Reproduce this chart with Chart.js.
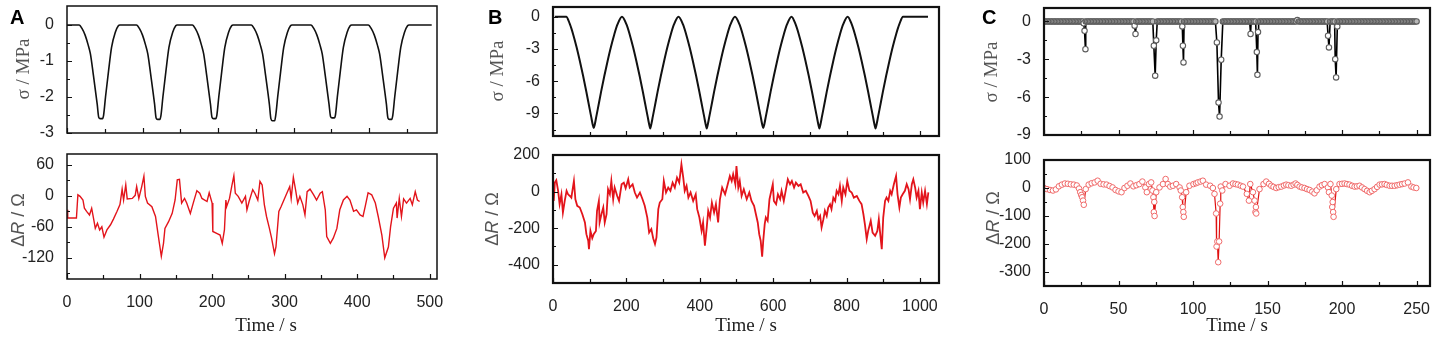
<!DOCTYPE html>
<html>
<head>
<meta charset="utf-8">
<script src="https://cdn.jsdelivr.net/npm/chart.js@4.4.0/dist/chart.umd.min.js"></script>
<style>
body { margin: 0; background: #fff; width: 1439px; height: 340px; position: relative; overflow: hidden; }
canvas { position: absolute; }
.lt { position: absolute; font: bold 20px "Liberation Sans", Arial, sans-serif; line-height: 20px; color: #000; }
.xt { position: absolute; font: 19px "Liberation Serif", "Times New Roman", serif; color: #222; transform: translate(-50%, -50%); white-space: nowrap; }
.ys { position: absolute; font: 19px "Liberation Serif", "Times New Roman", serif; color: #555; transform: translate(-50%, -50%) rotate(-90deg); white-space: nowrap; }
.yr { position: absolute; font: 18px "Liberation Sans", Arial, sans-serif; color: #555; transform: translate(-50%, -50%) rotate(-90deg); white-space: nowrap; }
</style>
</head>
<body>
<canvas id="aTop"></canvas>
<canvas id="aBot"></canvas>
<canvas id="bTop"></canvas>
<canvas id="bBot"></canvas>
<canvas id="cTop"></canvas>
<canvas id="cBot"></canvas>

<div class="lt" style="left:10px;top:7px">A</div>
<div class="lt" style="left:488px;top:7px">B</div>
<div class="lt" style="left:982px;top:7px">C</div>

<div class="ys" style="left:23px;top:69px">σ / MPa</div>
<div class="yr" style="left:18px;top:220px">Δ<i>R</i> / Ω</div>
<div class="ys" style="left:497px;top:71px">σ / MPa</div>
<div class="yr" style="left:492px;top:219px">Δ<i>R</i> / Ω</div>
<div class="ys" style="left:991px;top:72px">σ / MPa</div>
<div class="yr" style="left:993px;top:218px">Δ<i>R</i> / Ω</div>

<div class="xt" style="left:266px;top:325px">Time / s</div>
<div class="xt" style="left:746px;top:325px">Time / s</div>
<div class="xt" style="left:1237px;top:325px">Time / s</div>

<script>
// ---- A: stress (top) and resistance change (bottom) ----
const aTopT = [0, 16,
  20, 24, 28, 31, 35, 40, 42, 44, 47, 48.5, 51, 55, 59, 64, 68, 70,
  92, 96, 100, 104, 107, 111, 116, 118, 120, 123, 124.5, 127, 131, 135, 140, 144, 146,
  166, 170, 174, 178, 181, 185, 190, 192, 194, 197, 198.5, 201, 205, 209, 214, 218, 220,
  244, 248, 252, 256, 259, 263, 268, 270, 272, 275, 276.5, 279, 283, 287, 292, 296, 298,
  323, 327, 331, 335, 338, 342, 347, 349, 351, 354, 355.5, 358, 362, 366, 371, 375, 377,
  399, 403, 407, 411, 414, 418, 423, 425, 427, 430, 431.5, 434, 438, 442, 447, 451, 453,
  468, 483];
const aTopS = [0, 0,
  -0.1, -0.28, -0.55, -0.8, -1.4, -2.2, -2.56, -2.6, -2.6, -2.5, -2.0, -1.28, -0.62, -0.2, -0.02, 0,
  0, -0.1, -0.28, -0.55, -0.8, -1.4, -2.2, -2.58, -2.62, -2.62, -2.5, -2.0, -1.28, -0.62, -0.2, -0.02, 0,
  0, -0.1, -0.28, -0.55, -0.8, -1.4, -2.2, -2.56, -2.6, -2.6, -2.5, -2.0, -1.28, -0.62, -0.2, -0.02, 0,
  0, -0.1, -0.28, -0.55, -0.8, -1.4, -2.2, -2.6, -2.66, -2.66, -2.5, -2.0, -1.28, -0.62, -0.2, -0.02, 0,
  0, -0.1, -0.28, -0.55, -0.8, -1.4, -2.2, -2.54, -2.58, -2.58, -2.5, -2.0, -1.28, -0.62, -0.2, -0.02, 0,
  0, -0.1, -0.28, -0.55, -0.8, -1.4, -2.2, -2.58, -2.62, -2.62, -2.5, -2.0, -1.28, -0.62, -0.2, -0.02, 0,
  0, 0];

const aBotT = [0, 1, 8, 13, 15, 18, 22, 24, 27, 31,
  34, 37, 39, 42, 45, 48, 51, 55, 60, 64,
  69, 73, 76, 78, 81, 83, 90, 94, 96, 99,
  103, 106, 108, 111, 117, 122, 126, 130, 133, 135,
  140, 145, 149, 152, 155, 158, 162, 165, 170, 174,
  179, 183, 186, 193, 196, 200, 201, 207, 211, 214,
  217, 219, 220, 224, 227, 230, 232, 236, 241, 246,
  248, 251, 256, 259, 263, 266, 269, 272, 275, 279,
  282, 286, 288, 292, 295, 299, 303, 307, 309, 312,
  315, 318, 321, 325, 328, 331, 335, 340, 344, 349,
  352, 356, 358, 363, 367, 372, 376, 381, 386, 390,
  395, 399, 404, 408, 411, 415, 420, 425, 429, 434,
  438, 443, 446, 450, 454, 455, 458, 461, 464, 468,
  473, 476, 480, 483, 486];
const aBotR = [-27, -43, -43, -43, 2, -1, -8, -24, -30, -37,
  -24, -47, -63, -53, -66, -60, -80, -66, -56, -45,
  -30, -17, 13, -8, 21, -6, -5, 1, 18, -5,
  18, 38, -1, -14, -21, -40, -79, -117, -92, -63,
  -50, -34, -8, 31, 32, -14, -5, -14, -34, -14,
  10, 5, -5, -11, 6, -14, -69, -73, -76, -92,
  -66, -8, -21, -5, 18, 39, 5, -1, -14, -1,
  -27, -11, 12, 5, -8, 28, 21, -17, -40, -63,
  -82, -112, -99, -30, -21, -8, 5, 18, -5, 36,
  12, -14, -1, -17, -37, 8, 13, 2, -8, 5,
  8, -27, -79, -92, -82, -63, -27, -8, -1, -8,
  -30, -27, -37, -40, -21, 6, 2, -14, -40, -76,
  -120, -99, -60, -24, -14, -43, -5, -40, -6, -14,
  -5, -17, 8, -8, -11];

// ---- B ----
const bTopT = [5, 36,
  46, 55, 64, 73, 82, 91, 100, 104, 108, 111, 114, 118, 122, 131, 140, 149, 158, 167, 176, 188,
  200, 209, 218, 227, 236, 245, 254, 258, 262, 265, 268, 272, 276, 285, 294, 303, 312, 321, 330, 342,
  354, 363, 372, 381, 390, 399, 408, 412, 416, 419, 422, 426, 430, 439, 448, 457, 466, 475, 484, 496,
  508, 517, 526, 535, 544, 553, 562, 566, 570, 573, 576, 580, 584, 593, 602, 611, 620, 629, 638, 650,
  661, 670, 679, 688, 697, 706, 715, 719, 723, 726, 729, 733, 737, 746, 755, 764, 773, 782, 791, 803,
  814, 823, 832, 841, 850, 859, 868, 872, 876, 879, 882, 886, 890, 899, 908, 917, 926, 935, 944, 954,
  1022];
const bTopS = [0, 0,
  -0.7, -1.65, -2.8, -4.1, -5.5, -7.0, -8.6, -9.3, -10.0, -10.35, -10.0, -9.3, -8.6, -7.0, -5.5, -4.1, -2.8, -1.65, -0.7, 0,
  -0.7, -1.65, -2.8, -4.1, -5.5, -7.0, -8.6, -9.3, -10.0, -10.4, -10.0, -9.3, -8.6, -7.0, -5.5, -4.1, -2.8, -1.65, -0.7, 0,
  -0.7, -1.65, -2.8, -4.1, -5.5, -7.0, -8.6, -9.3, -10.0, -10.4, -10.0, -9.3, -8.6, -7.0, -5.5, -4.1, -2.8, -1.65, -0.7, 0,
  -0.7, -1.65, -2.8, -4.1, -5.5, -7.0, -8.6, -9.3, -10.0, -10.35, -10.0, -9.3, -8.6, -7.0, -5.5, -4.1, -2.8, -1.65, -0.7, 0,
  -0.7, -1.65, -2.8, -4.1, -5.5, -7.0, -8.6, -9.3, -10.0, -10.4, -10.0, -9.3, -8.6, -7.0, -5.5, -4.1, -2.8, -1.65, -0.7, 0,
  -0.7, -1.65, -2.8, -4.1, -5.5, -7.0, -8.6, -9.3, -10.0, -10.4, -10.0, -9.3, -8.6, -7.0, -5.5, -4.1, -2.8, -1.65, -0.7, 0,
  0];

const bBotT = [2, 5, 9, 14, 18, 23, 27, 32, 37, 41,
  46, 50, 57, 61, 66, 73, 80, 87, 91, 96,
  98, 102, 107, 111, 117, 120, 125, 127, 132, 137,
  141, 146, 150, 155, 159, 164, 168, 175, 180, 187,
  193, 198, 205, 209, 217, 223, 229, 237, 244, 250,
  257, 262, 268, 273, 278, 282, 287, 291, 298, 302,
  308, 314, 320, 326, 332, 338, 344, 350, 355, 359,
  364, 369, 375, 382, 389, 393, 399, 405, 409, 414,
  419, 423, 428, 433, 439, 444, 450, 455, 461, 469,
  475, 482, 487, 491, 497, 500, 505, 509, 514, 520,
  528, 535, 541, 548, 553, 558, 562, 566, 570, 573,
  577, 580, 585, 590, 594, 599, 602, 608, 613, 619,
  623, 629, 635, 640, 646, 651, 657, 662, 669, 675,
  682, 689, 696, 702, 708, 713, 719, 723, 728, 732,
  737, 741, 746, 750, 755, 759, 764, 769, 773, 778,
  782, 787, 791, 797, 802, 808, 814, 820, 828, 835,
  841, 846, 850, 855, 859, 866, 871, 878, 884, 888,
  891, 896, 900, 905, 909, 914, 919, 923, 929, 935,
  939, 944, 948, 953, 959, 964, 969, 973, 978, 982,
  987, 991, 996, 1000, 1005, 1009, 1014, 1019, 1023];
const bBotR = [-51, 49, 62, 4, -69, -15, -115, -51, 4, -15,
  -24, -33, 58, -42, -78, -87, -124, -169, -233, -269,
  -315, -215, -255, -233, -215, -105, -51, -169, -124, -87,
  -169, -124, 13, -15, 58, -42, 22, -24, -51, 40,
  49, 18, 67, 22, 40, -5, -33, -5, -42, -78,
  -142, -224, -205, -255, -287, -251, -96, -60, -42, 58,
  -5, 22, 4, 49, 22, 76, 49, 149, 76, 4,
  31, -33, -5, -51, -15, -96, -142, -215, -169, -296,
  -196, -105, -142, -60, -115, -69, -169, -42, 22, -15,
  31, 85, 58, 95, 40, 140, 22, 58, -24, 13,
  -42, -5, -51, -78, -124, -169, -233, -269, -356, -269,
  -178, -142, -160, -42, -5, 40, -51, -69, -15, -42,
  4, -51, 13, 67, 40, 58, 22, 49, 31, 40,
  -5, 4, -24, -51, -115, -133, -105, -151, -133, -196,
  -151, -105, -133, -87, -69, -96, -33, -51, 4, -15,
  31, -51, 22, -15, 58, 4, -5, -33, -24, -51,
  -69, -124, -178, -260, -215, -160, -224, -242, -215, -151,
  -215, -315, -142, -51, -33, -51, 4, -15, 40, 85,
  -15, -87, -33, -15, 4, 40, 13, -42, 40, 67,
  22, -33, 4, -96, -5, -60, 4, -69, -5];

// ---- C ----
const cTopT = [
  0, 1, 2, 3, 4, 5, 6, 7, 8, 9, 10, 11, 12, 13, 14, 15, 16, 17, 18, 19, 20, 21, 22, 23, 24, 25, 26,
  26.6, 27.2, 27.8,
  28, 29, 30, 31, 32, 33, 34, 35, 36, 37, 38, 39, 40, 41, 42, 43, 44, 45, 46, 47, 48, 49, 50, 51, 52, 53, 54, 55, 56, 57, 58, 59, 60,
  60.8, 61.4,
  62, 63, 64, 65, 66, 67, 68, 69, 70, 71, 72, 73,
  73.7, 74.6, 75.3,
  76, 77, 78, 79, 80, 81, 82, 83, 84, 85, 86, 87, 88, 89, 90, 91, 92,
  92.8, 93.2, 93.6,
  94, 95, 96, 97, 98, 99, 100, 101, 102, 103, 104, 105, 106, 107, 108, 109, 110, 111, 112, 113, 114, 115,
  116, 117.1, 117.8, 118.9,
  120, 121, 122, 123, 124, 125, 126, 127, 128, 129, 130, 131, 132, 133, 134, 135, 136, 137, 138,
  138.6,
  139, 140, 141, 142,
  142.8, 143.2, 143.6,
  144, 145, 146, 147, 148, 149, 150, 151, 152, 153, 154, 155, 156, 157, 158, 159, 160, 161, 162, 163, 164, 165, 166, 167, 168, 169, 170, 171, 172, 173, 174, 175, 176, 177, 178, 179, 180, 181, 182, 183, 184, 185, 186, 187, 188, 189, 190,
  190.6, 191.2,
  192, 193, 194, 195,
  195.4, 196, 196.8,
  197, 198, 199, 200, 201, 202, 203, 204, 205, 206, 207, 208, 209, 210, 211, 212, 213, 214, 215, 216, 217, 218, 219, 220, 221, 222, 223, 224, 225, 226, 227, 228, 229, 230, 231, 232, 233, 234, 235, 236, 237, 238, 239, 240, 241, 242, 243, 244, 245, 246, 247, 248, 249, 250];
const cTopS = [
  0, 0, 0, 0, 0, 0, 0, 0, 0, 0, 0, 0, 0, 0, 0, 0, 0, 0, 0, 0, 0, 0, 0, 0, 0, 0, 0,
  -0.15, -0.75, -2.2,
  0, 0, 0, 0, 0, 0, 0, 0, 0, 0, 0, 0, 0, 0, 0, 0, 0, 0, 0, 0, 0, 0, 0, 0, 0, 0, 0, 0, 0, 0, 0, 0, 0,
  -0.34, -1.0,
  0, 0, 0, 0, 0, 0, 0, 0, 0, 0, 0, 0,
  -1.93, -4.3, -1.5,
  0, 0, 0, 0, 0, 0, 0, 0, 0, 0, 0, 0, 0, 0, 0, 0, 0,
  -0.4, -1.93, -3.25,
  0, 0, 0, 0, 0, 0, 0, 0, 0, 0, 0, 0, 0, 0, 0, 0, 0, 0, 0, 0, 0, 0,
  -1.67, -6.43, -7.54, -3.04,
  0, 0, 0, 0, 0, 0, 0, 0, 0, 0, 0, 0, 0, 0, 0, 0, 0, 0, 0,
  -1.0,
  0, 0, 0, 0,
  -2.43, -4.23, -0.85,
  0, 0, 0, 0, 0, 0, 0, 0, 0, 0, 0, 0, 0, 0, 0, 0, 0, 0, 0, 0, 0, 0, 0, 0, 0, 0, 0.1, 0, 0, 0, 0, 0, 0, 0, 0, 0, 0, 0, 0, 0, 0, 0, 0, 0, 0, 0, 0,
  -1.14, -2.06,
  0, 0, 0, 0,
  -2.99, -4.44, -0.4,
  0, 0, 0, 0, 0, 0, 0, 0, 0, 0, 0, 0, 0, 0, 0, 0, 0, 0, 0, 0, 0, 0, 0, 0, 0, 0, 0, 0, 0, 0, 0, 0, 0, 0, 0, 0, 0, 0, 0, 0, 0, 0, 0, 0, 0, 0, 0, 0, 0, 0, 0, 0, 0, 0];

const cBotT = [0, 2, 4, 6, 8, 10, 12, 14, 16, 18, 20, 22,
  23.5, 24.3, 25, 25.6, 26.2, 26.7,
  28, 30, 32, 34, 36, 38, 40, 42, 44, 46, 48, 50, 52, 54, 56, 58, 60, 62, 64, 66, 68, 69, 70.4, 71.9,
  72.8, 73.4, 73.7, 74, 74.2, 75.3,
  77.5, 79.8, 81.6, 83.1, 84.7, 86.5, 88.7, 91,
  91.8, 92.7, 93.1, 93.5, 93.8,
  95.4, 97.6, 100.3, 102, 103.2, 105, 106.6, 108.8, 111.5, 113.3,
  114.4, 115.5, 115.8, 116.3, 116.9, 117.5, 118.2, 118.6,
  119.6, 121.8, 124.5, 126.8, 128.5, 130.1, 132, 133.5,
  136.1, 137.5, 138.4, 140.2, 141.3, 141.9, 142.2, 142.4,
  144.6, 147.3, 149.1, 151, 152.5, 154, 155.8, 157.5, 159.2, 161, 162.5, 164, 165.9, 167.5, 168.8, 170,
  171.5, 173, 174.8, 176.5, 178.2, 180, 181.5, 183, 184.9, 186.5, 188.3, 190.5,
  191.2, 192.2, 193.1, 193.4, 193.7, 194, 194.3,
  196.1, 198.3, 200, 201.7, 203.3, 205, 206.7, 208.4, 210, 211.7, 213.4, 215.1, 216.8, 218.5, 220,
  221.8, 223.5, 225.2, 226.8, 228.5, 230, 231.9, 233.5, 235.3, 237, 238.6, 240.3, 242, 244.2, 246.5, 248, 249.8];
const cBotR = [0, -4, -7, -9, -5, 6, 12, 16, 15, 13, 12, 9,
  -2, -15, -25, -33, -45, -60,
  -4, 12, 17, 20, 26, 15, 13, 12, 7, 2, -7, -12, -15, 0, 8, 16, 6, 10, 14, 23, 2, -15, 14, 20,
  -9, -33, -86, -50, -100, -15,
  2, 14, 32, 14, 5, 8, 14, 2,
  -9, -33, -68, -86, -103,
  -15, 8, 14, 17, 20, 23, 26, 12, 8, 0,
  -21, -91, -209, -191, -265, -191, -56, 5,
  -9, 14, 8, 16, 14, 12, 8, 5,
  -21, -45, 14, -15, -45, -86, -68, -91,
  -4, 14, 23, 15, 8, 4, 0, 3, 5, 9, 12, 10, 8, 12, 16, 11,
  5, 2, 0, -4, -7, -13, -19, -8, 5, 10, 14, 2,
  -15, 14, -27, -68, -50, -86, -103,
  -4, 14, 15, 16, 14, 12, 8, 5, 6, 8, 2, -4, -10, -15, -10,
  -4, 4, 12, 13, 14, 11, 8, 8, 8, 10, 12, 14, 16, 20, 5, 2, 0];

// ---- axis ticks (labelled majors, unlabelled minors) ----
const aTopXMajor = [0, 100, 200, 300, 400], aTopXMinor = [50, 150, 250, 350, 450];
const aBotXMajor = [0, 100, 200, 300, 400, 500], aBotXMinor = [50, 150, 250, 350, 450];
const bXMajor = [0, 200, 400, 600, 800, 1000], bXMinor = [100, 300, 500, 700, 900];
const cXMajor = [0, 50, 100, 150, 200, 250], cXMinor = [25, 75, 125, 175, 225];
const aTopYMajor = [0, -1, -2, -3], aTopYMinor = [-0.5, -1.5, -2.5];
const aBotYMajor = [60, 0, -60, -120], aBotYMinor = [30, -30, -90, -150];
const bTopYMajor = [0, -3, -6, -9], bTopYMinor = [-1.5, -4.5, -7.5, -10.5];
const bBotYMajor = [200, 0, -200, -400], bBotYMinor = [100, -100, -300];
const cTopYMajor = [0, -3, -6, -9], cTopYMinor = [-1.5, -4.5, -7.5];
const cBotYMajor = [100, 0, -100, -200, -300], cBotYMinor = [50, -50, -150, -250];

Chart.defaults.font.family = '"Liberation Sans", Arial, sans-serif';
Chart.defaults.font.size = 16;
Chart.defaults.color = '#222';

// frame + inward tick marks
const frame = {
  id: 'frame',
  afterDraw(chart, args, o) {
    const { ctx, chartArea: a } = chart;
    const xs = chart.scales.x, ys = chart.scales.y;
    ctx.save();
    ctx.strokeStyle = '#111';
    ctx.lineWidth = 1.2;
    ctx.beginPath();
    xs.ticks.forEach(t => {
      const p = Math.round(xs.getPixelForValue(t.value)) + 0.5;
      const l = o.xMajor.includes(t.value) ? 5 : 4;
      ctx.moveTo(p, a.bottom); ctx.lineTo(p, a.bottom - l);
    });
    ys.ticks.forEach(t => {
      const p = Math.round(ys.getPixelForValue(t.value)) + 0.5;
      const l = o.yMajor.includes(t.value) ? 5 : 3;
      ctx.moveTo(a.left, p); ctx.lineTo(a.left + l, p);
    });
    ctx.stroke();
    ctx.lineWidth = o.lw;
    ctx.strokeRect(a.left, a.top, a.right - a.left, a.bottom - a.top);
    ctx.restore();
  }
};

const pts = (xs, ys) => xs.map((x, i) => ({ x: x, y: ys[i] }));

function panel(id, box, xr, yr, xMajor, xMinor, yMajor, yMinor, datasets, showX, lw) {
  const padL = 55, padT = 12, padR = 22, padB = showX ? 34 : 12;
  const cv = document.getElementById(id);
  cv.width = box[2] - box[0] + padL + padR;
  cv.height = box[3] - box[1] + padT + padB;
  cv.style.left = (box[0] - padL) + 'px';
  cv.style.top = (box[1] - padT) + 'px';
  const xt = xMajor.concat(xMinor).sort((p, q) => p - q);
  const yt = yMajor.concat(yMinor).sort((p, q) => p - q);
  return new Chart(cv, {
    type: 'scatter',
    data: { datasets: datasets },
    plugins: [frame],
    options: {
      responsive: false,
      animation: false,
      events: [],
      layout: { padding: { top: padT, right: padR, left: 0, bottom: 0 } },
      plugins: {
        legend: { display: false },
        tooltip: { enabled: false },
        frame: { xMajor: xMajor, yMajor: yMajor, lw: lw }
      },
      scales: {
        x: {
          type: 'linear', min: xr[0], max: xr[1],
          grid: { display: false }, border: { display: false },
          afterBuildTicks: s => { s.ticks = xt.map(v => ({ value: v })); },
          afterFit: s => { s.height = padB; s.paddingLeft = 0; s.paddingRight = 0; },
          ticks: {
            autoSkip: false, maxRotation: 0, padding: 6,
            callback: v => (showX && xMajor.includes(v)) ? String(v) : ''
          }
        },
        y: {
          type: 'linear', min: yr[0], max: yr[1],
          grid: { display: false }, border: { display: false },
          afterBuildTicks: s => { s.ticks = yt.map(v => ({ value: v })); },
          afterFit: s => { s.width = padL; s.paddingTop = 0; s.paddingBottom = 0; },
          ticks: {
            autoSkip: false, padding: 5,
            callback: v => yMajor.includes(v) ? String(v) : ''
          }
        }
      }
    }
  });
}

const blackLine = (d, w) => ({ data: d, showLine: true, borderColor: '#111', borderWidth: w, pointRadius: 0, cubicInterpolationMode: 'monotone' });
const redLine = (d, w) => ({ data: d, showLine: true, borderColor: '#e3141b', borderWidth: w, pointRadius: 0, tension: 0 });

panel('aTop', [67, 6, 437, 133], [0, 490], [-3, 0.53], aTopXMajor, aTopXMinor, aTopYMajor, aTopYMinor,
  [blackLine(pts(aTopT, aTopS), 1.6)], false, 1.5);
panel('aBot', [67, 154, 437, 279], [0, 510], [-161, 81], aBotXMajor, aBotXMinor, aBotYMajor, aBotYMinor,
  [redLine(pts(aBotT, aBotR), 1.4)], true, 1.5);
panel('bTop', [553, 7, 939, 136], [0, 1052], [-11.1, 0.9], bXMajor, bXMinor, bTopYMajor, bTopYMinor,
  [blackLine(pts(bTopT, bTopS), 2)], false, 2.2);
panel('bBot', [553, 155, 939, 283], [0, 1052], [-500, 200], bXMajor, bXMinor, bBotYMajor, bBotYMinor,
  [redLine(pts(bBotT, bBotR), 1.8)], true, 2.2);
panel('cTop', [1044, 8, 1430, 135], [0, 259], [-9, 1.06], cXMajor, cXMinor, cTopYMajor, cTopYMinor,
  [{ data: pts(cTopT, cTopS), showLine: true, borderColor: '#000', borderWidth: 1.6,
     pointRadius: 2.7, pointBorderWidth: 1.1, pointBorderColor: '#5e5e5e',
     pointBackgroundColor: ctx => (ctx.raw && ctx.raw.y === 0) ? '#b8b8b8' : '#fff' }], false, 2.2);
panel('cBot', [1044, 160, 1430, 286], [0, 259], [-350, 100], cXMajor, cXMinor, cBotYMajor, cBotYMinor,
  [{ data: pts(cBotT, cBotR), showLine: true, borderColor: '#e01010', borderWidth: 1.2,
     pointRadius: 2.8, pointBorderWidth: 1, pointBorderColor: '#f06a6a', pointBackgroundColor: '#fff' }], true, 2.2);
</script>
</body>
</html>
